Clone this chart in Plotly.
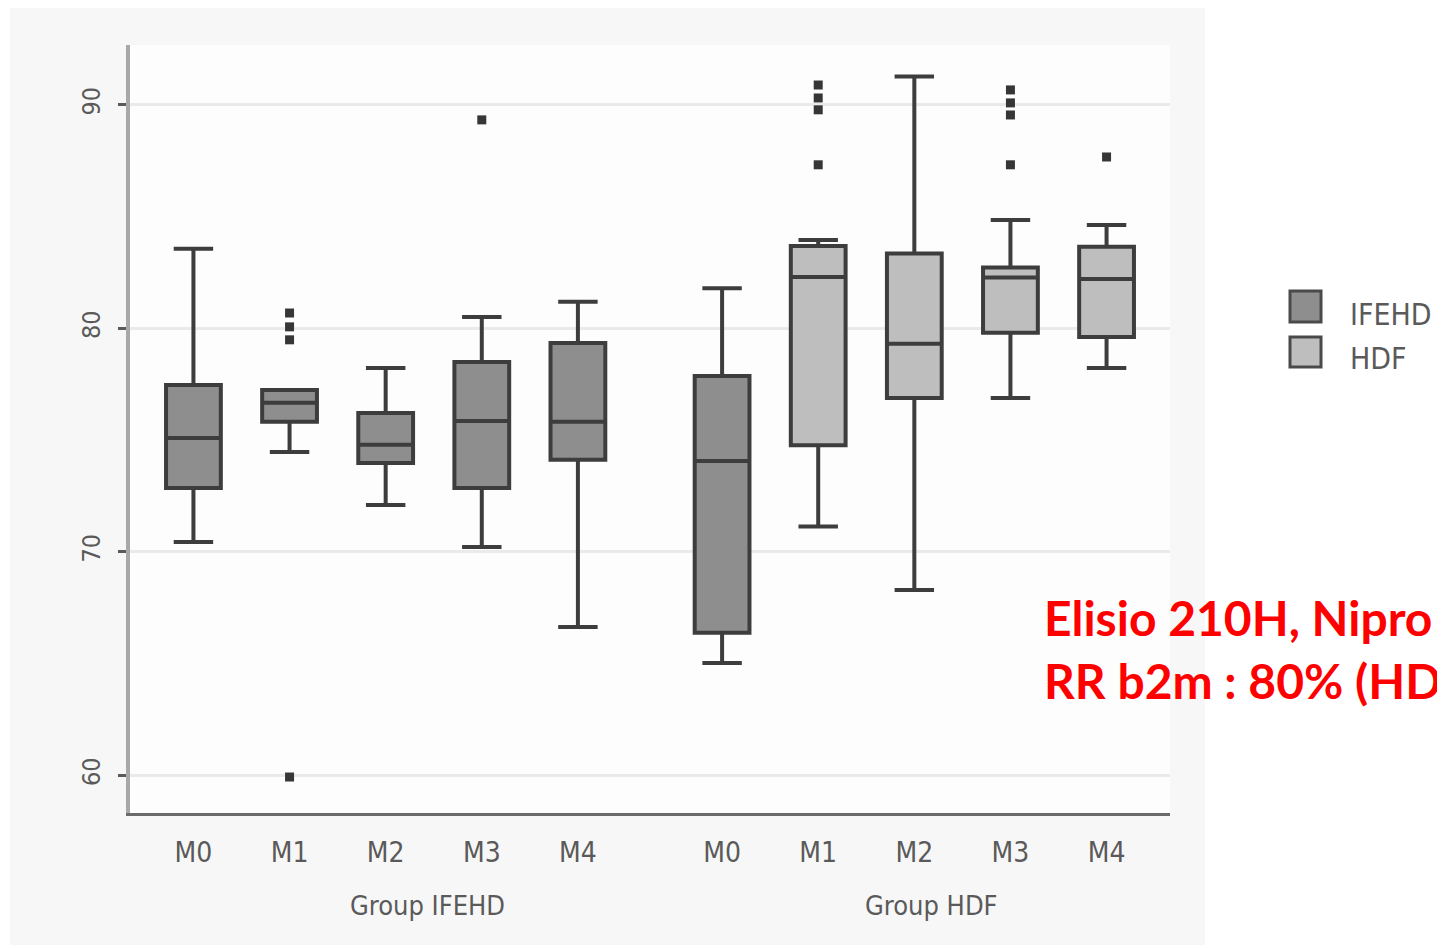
import plotly.graph_objects as go

# ---------------- data ----------------
visits = ["M0", "M1", "M2", "M3", "M4"]
pos_ifehd = [0, 1, 2, 3, 4]
pos_hdf = [5.5, 6.5, 7.5, 8.5, 9.5]

ifehd_lower = [70.45, 74.47, 72.10, 70.22, 66.64]
ifehd_q1 = [72.86, 75.82, 73.98, 72.86, 74.12]
ifehd_median = [75.10, 76.67, 74.79, 75.86, 75.82]
ifehd_q3 = [77.47, 77.25, 76.22, 78.50, 79.35]
ifehd_upper = [83.56, 77.25, 78.23, 80.51, 81.19]

hdf_lower = [65.03, 71.14, 68.30, 76.89, 78.23]
hdf_q1 = [66.38, 74.77, 76.89, 79.81, 79.62]
hdf_median = [74.07, 82.30, 79.31, 82.28, 82.21]
hdf_q3 = [77.87, 83.69, 83.35, 82.72, 83.65]
hdf_upper = [81.80, 83.96, 91.27, 84.85, 84.63]

# treatment shown by each box (HDF group baseline M0 is drawn as IFEHD)
ifehd_mode = ["IFEHD", "IFEHD", "IFEHD", "IFEHD", "IFEHD"]
hdf_mode = ["IFEHD", "HDF", "HDF", "HDF", "HDF"]

ifehd_out_x = [1, 1, 1, 1, 3]
ifehd_out_y = [80.69, 80.07, 79.49, 59.93, 89.33]
hdf_out_x = [6.5, 6.5, 6.5, 6.5, 8.5, 8.5, 8.5, 8.5, 9.5]
hdf_out_y = [90.89, 90.31, 89.78, 87.32, 90.67, 90.09, 89.55, 87.32, 87.67]

yticks = [60, 70, 80, 90]
group_labels = ["Group IFEHD", "Group HDF"]
group_label_x = [2.43, 7.68]
legend_names = ["IFEHD", "HDF"]
note_lines = ["Elisio 210H, Nipro", "RR b2m : 80% (HD"]

# ---------------- styles ----------------
LINE = "#3d3d3d"
FILLS = {"IFEHD": "#8e8e8e", "HDF": "#bebebe"}
TXT = "#5a5a5a"
NARROW = "Liberation Sans Narrow, DejaVu Sans Condensed, Arial Narrow, sans-serif"

fig = go.Figure()
positions = pos_ifehd + pos_hdf
lowers = ifehd_lower + hdf_lower
q1s = ifehd_q1 + hdf_q1
meds = ifehd_median + hdf_median
q3s = ifehd_q3 + hdf_q3
uppers = ifehd_upper + hdf_upper
modes = ifehd_mode + hdf_mode
for i in range(len(positions)):
    fig.add_trace(go.Box(
        x=[positions[i]], q1=[q1s[i]], median=[meds[i]], q3=[q3s[i]],
        lowerfence=[lowers[i]], upperfence=[uppers[i]],
        width=0.57, whiskerwidth=0.72, fillcolor=FILLS[modes[i]],
        line=dict(color=LINE, width=4), name=modes[i],
        boxpoints=False, showlegend=False, hoverinfo="skip"))
fig.add_trace(go.Scatter(
    x=ifehd_out_x + hdf_out_x, y=ifehd_out_y + hdf_out_y, mode="markers",
    marker=dict(color="#363636", size=9, symbol="square"),
    showlegend=False, hoverinfo="skip"))

# page pixels of the plot area: x 130..1170, y 45..813
def px(x):
    return (x - 130) / 1040.0

def py(y):
    return (813 - y) / 768.0

shapes = [
    dict(type="rect", xref="paper", yref="paper", x0=px(10), x1=px(1205),
         y0=py(945), y1=py(8), fillcolor="#f7f7f7", line=dict(width=0), layer="below"),
    dict(type="rect", xref="paper", yref="paper", x0=px(130), x1=px(1170),
         y0=py(813), y1=py(45), fillcolor="#fdfdfd", line=dict(width=0), layer="below"),
]
for name, (top, bot) in zip(legend_names, [(291, 322), (337, 367)]):
    shapes.append(dict(type="rect", xref="paper", yref="paper", x0=px(1290), x1=px(1321),
                       y0=py(bot), y1=py(top), fillcolor=FILLS[name],
                       line=dict(color="#4a4a4a", width=3)))

annotations = []
for lab, gx in zip(group_labels, group_label_x):
    annotations.append(dict(x=gx, y=py(905), xref="x", yref="paper", text=lab,
                            showarrow=False, font=dict(family=NARROW, size=27, color=TXT),
                            xanchor="center", yanchor="middle"))
for name, ly in zip(legend_names, [314, 358]):
    annotations.append(dict(x=px(1348), y=py(ly), xref="paper", yref="paper", text=name,
                            showarrow=False, font=dict(family=NARROW, size=30, color=TXT),
                            xanchor="left", yanchor="middle"))
for line_text, ly in zip(note_lines, [617, 680]):
    annotations.append(dict(x=px(1042), y=py(ly), xref="paper", yref="paper",
                            text="<b>" + line_text + "</b>", showarrow=False,
                            font=dict(family="Lato, Liberation Sans, sans-serif", size=48,
                                      color="#ff0000"),
                            xanchor="left", yanchor="middle"))

fig.update_layout(
    width=1445, height=948,
    margin=dict(l=122, r=283, t=37, b=143),
    paper_bgcolor="#ffffff", plot_bgcolor="rgba(0,0,0,0)",
    boxmode="overlay", showlegend=False,
    shapes=shapes, annotations=annotations,
    xaxis=dict(range=[-0.66, 10.16], tickvals=positions, ticktext=visits + visits,
               showgrid=False, zeroline=False, showline=True, linecolor="#6a6a6a", linewidth=3,
               ticks="", ticklabelstandoff=12,
               tickfont=dict(family=NARROW, size=28, color=TXT), fixedrange=True),
    yaxis=dict(range=[58.32, 92.68], tickvals=yticks, ticktext=[str(v) for v in yticks],
               tickangle=-90, showgrid=True, gridcolor="#eaeaea", gridwidth=3, zeroline=False,
               showline=True, linecolor="#a8a8a8", linewidth=4, ticks="outside", ticklen=8,
               tickwidth=3, tickcolor="#5a5a5a", ticklabelstandoff=8,
               tickfont=dict(family=NARROW, size=25, color=TXT), fixedrange=True),
)

fig.write_html("out.html")
